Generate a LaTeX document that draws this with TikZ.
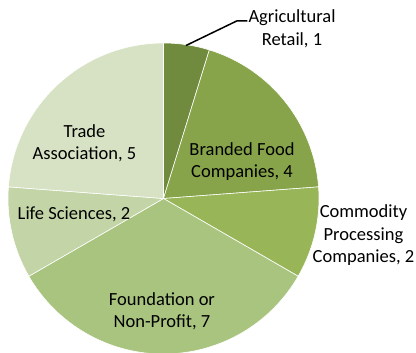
\documentclass[tikz,border=0pt]{standalone}
\usepackage{fontspec}
\setmainfont{Carlito}
\definecolor{agcol}{HTML}{718B3E}
\definecolor{brandcol}{HTML}{87A44B}
\definecolor{commcol}{HTML}{98B558}
\definecolor{foundcol}{HTML}{A9C47F}
\definecolor{lifecol}{HTML}{C3D4A6}
\definecolor{tradecol}{HTML}{D7E2C4}
\begin{document}
\begin{tikzpicture}[x=1pt,y=1pt,
  slice/.style={draw=white,line width=0.6pt},
  lbl/.style={align=center,font=\fontsize{18.5}{22.5}\selectfont,inner sep=1pt}]
\useasboundingbox (0,0) rectangle (416,353);
\coordinate (o) at (163.5,154.5);
\def\r{155.5}
\fill[slice,fill=agcol] (o) -- ++(90:\r) arc[start angle=90,end angle=72.857,radius=\r] -- cycle;
\fill[slice,fill=brandcol] (o) -- ++(72.857:\r) arc[start angle=72.857,end angle=4.286,radius=\r] -- cycle;
\fill[slice,fill=commcol] (o) -- ++(4.286:\r) arc[start angle=4.286,end angle=-30,radius=\r] -- cycle;
\fill[slice,fill=foundcol] (o) -- ++(-30:\r) arc[start angle=-30,end angle=-150,radius=\r] -- cycle;
\fill[slice,fill=lifecol] (o) -- ++(-150:\r) arc[start angle=-150,end angle=-184.286,radius=\r] -- cycle;
\fill[slice,fill=tradecol] (o) -- ++(175.714:\r) arc[start angle=175.714,end angle=90,radius=\r] -- cycle;
% labels
\node[lbl] (ag) at (292,324) {Agricultural\\Retail, 1};
\node[lbl] (brand) at (242,191.5) {Branded Food\\Companies, 4};
\node[lbl] (comm) at (363.5,117.5) {Commodity\\Processing\\Companies, 2};
\node[lbl] (found) at (162,41.5) {Foundation or\\Non-Profit, 7};
\node[lbl] (life) at (74,139) {Life Sciences, 2};
\node[lbl] (trade) at (84.5,209.5) {Trade\\Association, 5};
\coordinate (agtip) at (186,307.5);
\coordinate (agbend) at (236.7,332);
\draw[line width=1.5pt] (agtip) -- (agbend) -- (ag.west |- agbend);
\end{tikzpicture}
\end{document}
